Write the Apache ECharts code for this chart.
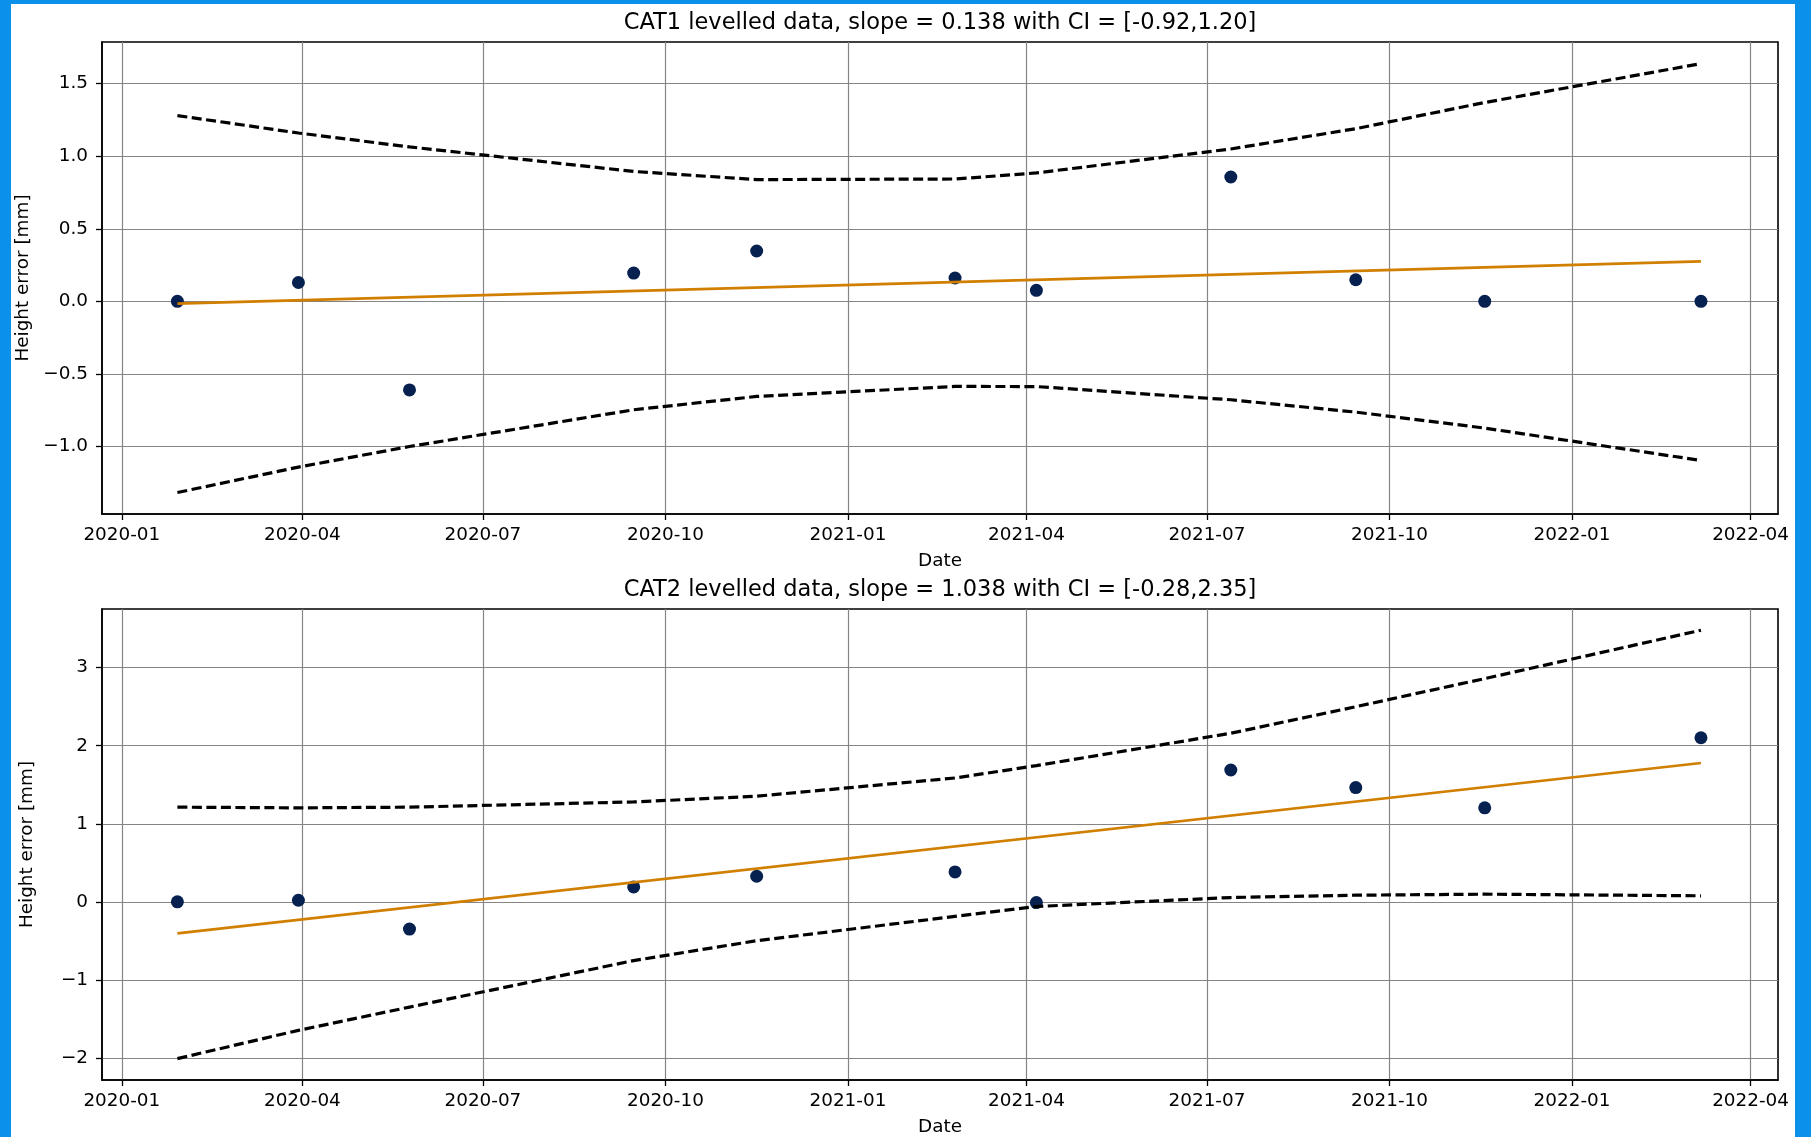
<!DOCTYPE html>
<html>
<head>
<meta charset="utf-8">
<script src="https://cdn.jsdelivr.net/npm/echarts@6/dist/echarts.min.js"></script>
<style>
  html, body { margin: 0; padding: 0; width: 1811px; height: 1137px; overflow: hidden; background: #0b91e9; }
  #sheet { position: absolute; left: 11px; top: 4px; width: 1784px; height: 1133px; background: #ffffff; }
  #chart { position: absolute; left: 0; top: 0; width: 1811px; height: 1137px; }
</style>
</head>
<body>
<div id="sheet"></div>
<div id="chart"></div>
<script>
// Survey epochs shared by both levelling categories
const surveyDates = ['2020-01-29', '2020-03-30', '2020-05-25', '2020-09-15', '2020-11-16', '2021-02-24',
                     '2021-04-06', '2021-07-13', '2021-09-14', '2021-11-18', '2022-03-07'];

// CAT1: measured height error, confidence band and fitted trend (first / last epoch)
const cat1Height = [0.0, 0.13, -0.61, 0.195, 0.347, 0.161, 0.076, 0.857, 0.149, 0.0, 0.0];
const cat1Upper  = [1.28, 1.16, 1.064, 0.895, 0.839, 0.843, 0.885, 1.05, 1.19, 1.37, 1.638];
const cat1Lower  = [-1.317, -1.142, -1.0, -0.747, -0.655, -0.586, -0.587, -0.678, -0.763, -0.873, -1.096];
const cat1Trend  = [-0.015, 0.276];

// CAT2: measured height error, confidence band and fitted trend (first / last epoch)
const cat2Height = [0.0, 0.02, -0.349, 0.191, 0.328, 0.383, -0.01, 1.689, 1.464, 1.204, 2.102];
const cat2Upper  = [1.213, 1.204, 1.213, 1.28, 1.353, 1.587, 1.745, 2.16, 2.5, 2.86, 3.48];
const cat2Lower  = [-2.009, -1.647, -1.349, -0.753, -0.498, -0.187, -0.06, 0.055, 0.085, 0.098, 0.077];
const cat2Trend  = [-0.404, 1.779];

// Panel titles
const cat1Title = 'CAT1 levelled data, slope = 0.138 with CI = [-0.92,1.20]';
const cat2Title = 'CAT2 levelled data, slope = 1.038 with CI = [-0.28,2.35]';

// Axis ticks
const xTickLabels = ['2020-01', '2020-04', '2020-07', '2020-10', '2021-01', '2021-04', '2021-07', '2021-10', '2022-01', '2022-04'];
const yTicks1 = [-1.0, -0.5, 0.0, 0.5, 1.0, 1.5];
const yTicks2 = [-2, -1, 0, 1, 2, 3];

// Axis extents
const xStart = '2019-12-22';
const xEnd = '2022-04-14';
const yRange1 = [-1.465, 1.787];
const yRange2 = [-2.283, 3.752];

const FONT = 'DejaVu Sans';
const TEXT = '#000000';
const GRIDLINE = '#858585';
const DOT = '#06204f';
const TREND = '#d17f00';

function monthStamp(s) {
  const p = s.split('-');
  return Date.UTC(+p[0], +p[1] - 1, 1);
}
function dayStamp(s) {
  const p = s.split('-');
  return Date.UTC(+p[0], +p[1] - 1, +p[2]);
}
const xTickValues = xTickLabels.map(monthStamp);
const pad2 = n => (n < 10 ? '0' : '') + n;
const fmtMonth = v => { const d = new Date(v); return d.getUTCFullYear() + '-' + pad2(d.getUTCMonth() + 1); };
const minus = s => s.replace('-', '\u2212');

function pairs(ys) { return surveyDates.map((d, i) => [dayStamp(d), ys[i]]); }
function trendLine(t) {
  return [[dayStamp(surveyDates[0]), t[0]], [dayStamp(surveyDates[surveyDates.length - 1]), t[1]]];
}

const labelStyle = { fontFamily: FONT, fontSize: 18.4, color: TEXT };

// Dates are carried as UTC millisecond stamps on a linear axis
function makeX(gi) {
  return {
    type: 'value', gridIndex: gi,
    min: dayStamp(xStart), max: dayStamp(xEnd) + 20 * 3600 * 1000,
    axisLine: { show: true, onZero: false, lineStyle: { color: '#000', width: 1.5 } },
    axisTick: { show: true, customValues: xTickValues, length: 6, lineStyle: { color: '#000', width: 1.3 } },
    axisLabel: Object.assign({ customValues: xTickValues, formatter: fmtMonth, margin: 12, hideOverlap: false }, labelStyle),
    splitLine: { show: true, lineStyle: { color: GRIDLINE, width: 1.2 } },
    name: 'Date', nameLocation: 'middle', nameGap: 38,
    nameTextStyle: labelStyle
  };
}
function makeY(gi, range, ticks, fmt) {
  return {
    type: 'value', gridIndex: gi, min: range[0], max: range[1],
    axisLine: { show: true, onZero: false, lineStyle: { color: '#000', width: 1.5 } },
    axisTick: { show: true, customValues: ticks, length: 6, lineStyle: { color: '#000', width: 1.3 } },
    axisLabel: Object.assign({ customValues: ticks, formatter: fmt, margin: 14 }, labelStyle),
    splitLine: { show: true, lineStyle: { color: GRIDLINE, width: 1.2 } },
    name: 'Height error [mm]', nameLocation: 'middle', nameGap: 66, nameRotate: 90,
    nameTextStyle: labelStyle
  };
}

function panelSeries(gi, height, upper, lower, trend) {
  const dashed = { color: '#000', width: 3.2, type: [10, 4.5] };
  return [
    { type: 'scatter', xAxisIndex: gi, yAxisIndex: gi, data: pairs(height), symbolSize: 13,
      itemStyle: { color: DOT, opacity: 1 }, z: 2 },
    { type: 'line', xAxisIndex: gi, yAxisIndex: gi, data: pairs(upper), symbol: 'none',
      lineStyle: dashed, z: 3 },
    { type: 'line', xAxisIndex: gi, yAxisIndex: gi, data: pairs(lower), symbol: 'none',
      lineStyle: dashed, z: 3 },
    { type: 'line', xAxisIndex: gi, yAxisIndex: gi, data: trendLine(trend), symbol: 'none',
      lineStyle: { color: TREND, width: 2.7 }, z: 4 }
  ];
}

const chart = echarts.init(document.getElementById('chart'), null, { renderer: 'canvas' });
chart.setOption({
  animation: false,
  backgroundColor: 'transparent',
  grid: [
    { left: 102, top: 42, width: 1676, height: 472, show: true, borderColor: '#000', borderWidth: 1.6, backgroundColor: 'transparent' },
    { left: 102, top: 609, width: 1676, height: 473, show: true, borderColor: '#000', borderWidth: 1.6, backgroundColor: 'transparent' }
  ],
  xAxis: [makeX(0), makeX(1)],
  yAxis: [
    makeY(0, yRange1, yTicks1, v => minus(v.toFixed(1))),
    makeY(1, yRange2, yTicks2, v => minus(String(Math.round(v))))
  ],
  graphic: [
    { type: 'text', x: 940, y: 23, style: { text: cat1Title, fill: TEXT, font: '22.5px "DejaVu Sans"', textAlign: 'center', textVerticalAlign: 'middle' } },
    { type: 'text', x: 940, y: 590, style: { text: cat2Title, fill: TEXT, font: '22.5px "DejaVu Sans"', textAlign: 'center', textVerticalAlign: 'middle' } }
  ],
  series: panelSeries(0, cat1Height, cat1Upper, cat1Lower, cat1Trend)
    .concat(panelSeries(1, cat2Height, cat2Upper, cat2Lower, cat2Trend))
});
</script>
</body>
</html>
